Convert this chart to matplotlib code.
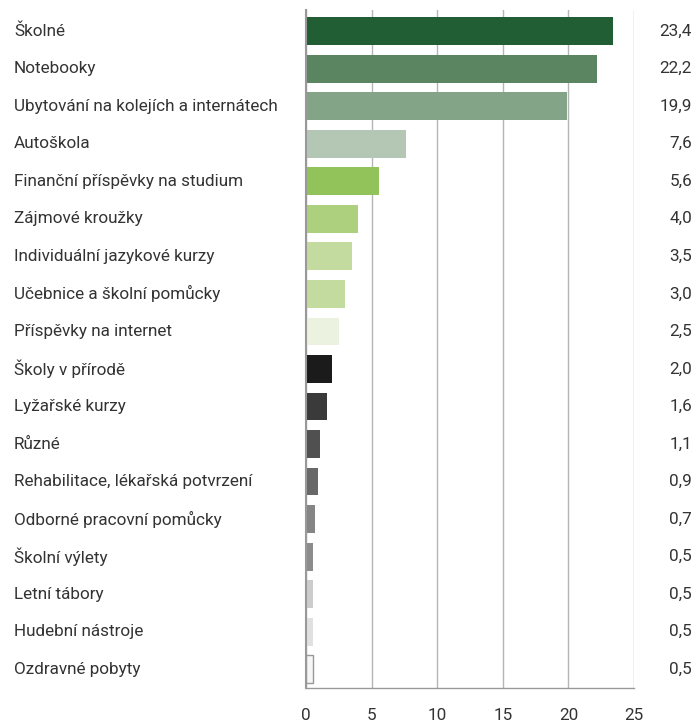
import matplotlib.pyplot as plt
from matplotlib.transforms import blended_transform_factory

# ── Data ──────────────────────────────────────────────────────
categories = [
    'Školné', 'Notebooky', 'Ubytování na kolejích a internátech', 'Autoškola',
    'Finanční příspěvky na studium', 'Zájmové kroužky', 'Individuální jazykové kurzy',
    'Učebnice a školní pomůcky', 'Příspěvky na internet', 'Školy v přírodě',
    'Lyžařské kurzy', 'Různé', 'Rehabilitace, lékařská potvrzení',
    'Odborné pracovní pomůcky', 'Školní výlety', 'Letní tábory',
    'Hudební nástroje', 'Ozdravné pobyty',
]
values = [23.4, 22.2, 19.9, 7.6, 5.6, 4.0, 3.5, 3.0, 2.5, 2.0,
          1.6, 1.1, 0.9, 0.7, 0.5, 0.5, 0.5, 0.5]
colors = ['#215e33', '#5a8560', '#84a487', '#b4c6b4', '#92c25a', '#add07f',
          '#c4dba0', '#c4dba0', '#ebf2df', '#1b1b1b', '#3a3a3a', '#505050',
          '#686868', '#858585', '#8c8c8c', '#cccccc', '#e0e0e0', '#f6f6f6']
xticks = [0, 5, 10, 15, 20, 25]

FONT = ['Roboto', 'DejaVu Sans']
TXT = '#333333'
FS = 12.3

# ── Plot ──────────────────────────────────────────────────────
fig = plt.figure(figsize=(6.97, 7.22), dpi=100)
ax = fig.add_axes([0.439, 0.047, 0.4706, 0.939])

ypos = list(range(len(categories)))
ax.barh(ypos, values, height=0.74, color=colors, zorder=3)
# last bar has a thin outline
ax.barh(ypos[-1], values[-1], height=0.74, color=colors[-1],
        edgecolor='#999999', linewidth=1, zorder=3)

ax.set_xlim(0, 25)
ax.set_ylim(17.5, -0.56)
ax.set_xticks(xticks)
ax.set_xticklabels([str(t) for t in xticks], family=FONT, fontsize=FS, color=TXT)
ax.tick_params(axis='x', length=0, pad=14)
ax.set_yticks([])
ax.grid(axis='x', color='#b5b5b5', linewidth=1, zorder=0)

for s in ['top', 'right']:
    ax.spines[s].set_visible(False)
ax.spines['left'].set_color('#999999')
ax.spines['left'].set_linewidth(1.5)
ax.spines['left'].set_zorder(4)
ax.spines['bottom'].set_color('#999999')
ax.spines['bottom'].set_linewidth(1)

trans = blended_transform_factory(fig.transFigure, ax.transData)
for y, (c, v) in enumerate(zip(categories, values)):
    ax.text(0.02, y, c, transform=trans, ha='left', va='center',
            fontsize=FS, family=FONT, color=TXT)
    ax.text(0.993, y, f'{v:.1f}'.replace('.', ','), transform=trans,
            ha='right', va='center', fontsize=FS, family=FONT, color=TXT)

fig.savefig('out.png', dpi=100)
